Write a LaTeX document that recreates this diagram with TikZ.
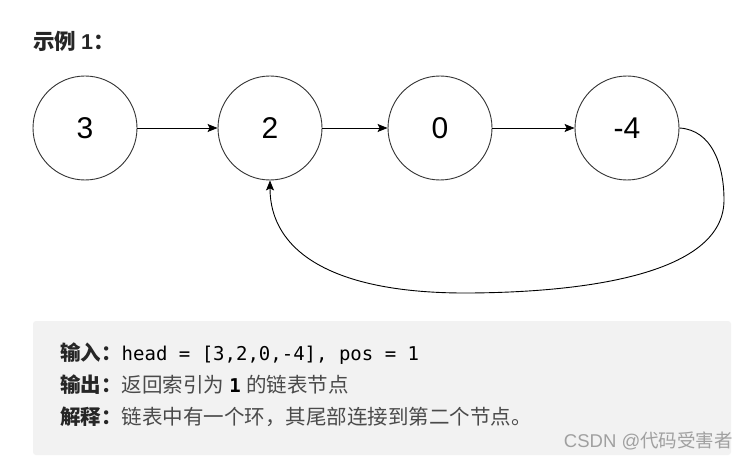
\documentclass[tikz,border=0pt]{standalone}
\usepackage{fontspec}
\setmainfont{Liberation Sans}
\newfontfamily\cjk{Noto Sans CJK SC}
\newfontfamily\monof{DejaVu Sans Mono}
\usetikzlibrary{arrows.meta}
\definecolor{linec}{HTML}{333333}
\definecolor{boxgray}{HTML}{F2F2F2}
\definecolor{txtc}{HTML}{262626}
\definecolor{bodyc}{HTML}{4A4A4A}
\definecolor{wmc}{HTML}{A0A0A0}
\begin{document}
\begin{tikzpicture}[x=1pt,y=-1pt,
  listnode/.style={circle,draw=linec,line width=0.9pt,minimum size=104pt,inner sep=0pt,
    font=\fontsize{30}{34}\selectfont,text=black},
  link/.style={draw=black,line width=0.9pt,-{Stealth[length=10pt,width=8pt,inset=2pt]}},
  line/.style={anchor=base west,inner sep=0pt,font=\fontsize{19}{23}\selectfont},
]
\useasboundingbox (0,0) rectangle (750,468);
\fill[white] (0,0) rectangle (750,468);

\node[anchor=base west,inner sep=0pt,text=txtc,font=\fontsize{21.5}{25}\selectfont\bfseries] (title) at (33,50) {\cjk 示例 {\fontspec{Liberation Sans}1}：};

\node[listnode] (n3) at (85,128) {3};
\node[listnode] (n2) at (270,128) {2};
\node[listnode] (n0) at (440,128) {0};
\node[listnode] (n4) at (627,128) {-4};

\draw[link] (n3) -- (n2);
\draw[link] (n2) -- (n0);
\draw[link] (n0) -- (n4);

\coordinate (c1) at (724,200);
\coordinate (c2) at (470,293);
\draw[link] (n4.east) .. controls (712,130) and (724,165) .. (c1)
  .. controls (724,270) and (600,292) .. (c2)
  .. controls (330,294) and (270,250) .. (n2.south);

\fill[boxgray,rounded corners=3pt] (33,321) rectangle (731,455);

\node[line] (l1) at (60,360) {{\fontsize{20.5}{23}\selectfont\cjk\bfseries\color{txtc}输入：}{\monof\color{black}head = [3,2,0,-4], pos = 1}};
\node[line] (l2) at (60,392) {{\fontsize{20.5}{23}\selectfont\cjk\bfseries\color{txtc}输出：}{\fontsize{20.5}{23}\selectfont\cjk\color{bodyc}返回索引为}\ {\monof\bfseries\color{black}1}\ {\fontsize{20.5}{23}\selectfont\cjk\color{bodyc}的链表节点}};
\node[line] (l3) at (60,424) {{\fontsize{20.5}{23}\selectfont\cjk\bfseries\color{txtc}解释：}{\fontsize{20.5}{23}\selectfont\cjk\color{bodyc}链表中有一个环，其尾部连接到第二个节点。}};

\node[anchor=base east,inner sep=0pt,text=wmc,font=\fontsize{18.5}{21}\selectfont] (wm) at (733,447) {CSDN @{\cjk 代码受害者}};
\end{tikzpicture}
\end{document}
